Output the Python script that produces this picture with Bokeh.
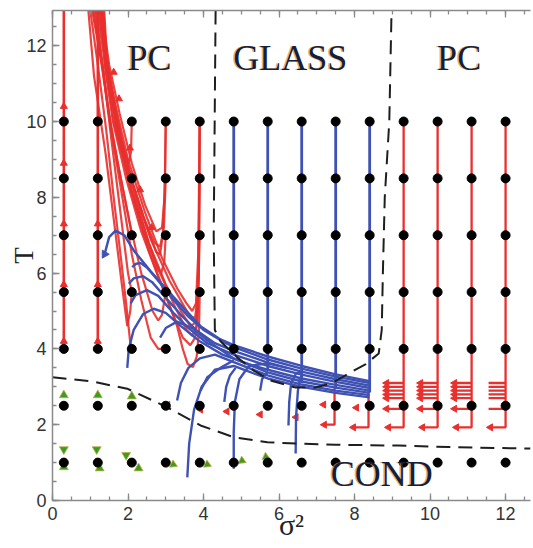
from math import pi
from bokeh.plotting import figure
from bokeh.models import Range1d, LinearAxis, SingleIntervalTicker
from bokeh.core.properties import value
from bokeh.embed import file_html
from bokeh.resources import INLINE

X_MAX = 12.66
T_MAX = 12.93

# grid of starting points
sigma_cols = [0.3, 1.2, 2.1, 3.0, 3.9, 4.8, 5.7, 6.6, 7.5, 8.4, 9.3, 10.2, 11.1, 12.0]
T_rows = [10, 8.5, 7, 5.5, 4, 2.5, 1]
major_ticks = [0, 2, 4, 6, 8, 10, 12]

# phase boundaries (dashed)
glass_x = [4.32, 4.27, 4.3, 4.45, 4.9, 5.33, 5.77, 6.44, 6.97, 7.4, 7.84, 8.3, 8.64, 8.72, 8.75, 8.8, 8.92, 8.98]
glass_T = [12.93, 7.0, 4.5, 4.2, 3.77, 3.43, 3.17, 2.98, 2.98, 3.1, 3.35, 3.6, 3.88, 4.5, 6.0, 8.0, 10.0, 12.93]
cond_x = [0.0, 1.0, 1.98, 3.04, 3.92, 4.8, 5.69, 6.5, 7.5, 9.17, 10.5, 12.66]
cond_T = [3.25, 3.15, 2.95, 2.46, 1.98, 1.67, 1.54, 1.5, 1.47, 1.45, 1.41, 1.37]

# red PC flows, left columns (straight up)
red_left_cols = [0.3, 1.2]
red_left_start = [4.0, 4.0]

# red bundle flows toward PC (upper left)
red_x = [
    [3.9, 3.88, 3.85, 3.78, 3.65, 3.45, 3.2, 2.8, 2.35, 1.95, 1.6, 1.38, 1.3],
    [3.9, 3.87, 3.82, 3.7, 3.55, 3.25, 2.85, 2.4, 2.0, 1.62, 1.4, 1.33],
    [3.9, 3.86, 3.78, 3.68, 3.5, 3.1, 2.6, 2.15, 1.75, 1.45, 1.37],
    [3.9, 3.88, 3.82, 3.72, 3.58, 3.45, 3.3, 3.0, 2.55, 2.1, 1.7, 1.43, 1.25],
    [3.9, 3.86, 3.8, 3.7, 3.55, 3.3, 2.9, 2.45, 2.0, 1.65, 1.4, 1.28],
    [3.9, 3.87, 3.8, 3.65, 3.4, 3.0, 2.55, 2.1, 1.72, 1.45, 1.35],
    [3.0, 2.98, 2.92, 2.85, 2.75, 2.5, 2.1, 1.75, 1.5, 1.22],
    [3.0, 2.95, 2.85, 2.7, 2.4, 2.05, 1.7, 1.4, 1.18],
    [3.0, 2.96, 2.88, 2.78, 2.55, 2.2, 1.85, 1.55, 1.27],
    [3.0, 2.97, 2.9, 2.75, 2.45, 2.1, 1.78, 1.5, 1.3],
    [2.1, 2.08, 2.02, 1.9, 1.7, 1.45, 1.3],
    [2.1, 2.05, 1.95, 1.8, 1.62, 1.42, 1.2, 1.0],
    [3.0, 2.8, 2.6, 2.35, 2.1, 1.85, 1.55, 1.3, 1.08],
    [3.0, 2.9, 2.8, 2.65, 2.35, 2.05, 1.75, 1.45, 1.12],
    [2.1, 2.05, 1.85, 1.55, 1.33, 1.15],
    [2.1, 2.06, 1.98, 1.85, 1.65, 1.4, 1.1, 0.95],
    [2.1, 2.0, 1.9, 1.75, 1.55, 1.35, 1.05],
]
red_T = [
    [10, 7, 5, 4.3, 4.1, 4.3, 4.9, 5.9, 7.1, 8.5, 10, 11.5, 12.93],
    [8.5, 6, 4.6, 4.35, 4.5, 5.1, 6.0, 7.1, 8.5, 10, 11.5, 12.93],
    [7, 5.5, 4.85, 4.8, 5.1, 5.8, 6.9, 8.3, 9.8, 11.5, 12.93],
    [5.5, 4.5, 3.8, 3.52, 3.6, 4.0, 4.6, 5.4, 6.6, 8.1, 9.8, 11.5, 12.93],
    [10, 6.5, 5.2, 5.0, 5.2, 5.6, 6.4, 7.6, 9.0, 10.5, 11.8, 12.93],
    [10, 6.0, 4.7, 4.6, 5.0, 5.7, 6.8, 8.2, 9.8, 11.4, 12.93],
    [10, 8.5, 7, 6.5, 6.55, 7.2, 8.4, 9.6, 11, 12.93],
    [8.5, 7.2, 6.7, 6.8, 7.5, 8.6, 10, 11.5, 12.93],
    [7, 6.3, 6.0, 6.1, 6.8, 8.0, 9.4, 11.0, 12.93],
    [10, 8.0, 7.2, 7.1, 7.8, 8.9, 10.2, 11.5, 12.93],
    [10, 9.2, 8.9, 9.2, 10, 11.2, 12.93],
    [4.0, 4.25, 5.2, 6.5, 8.0, 9.8, 11.5, 12.93],
    [4.0, 4.0, 4.3, 5.3, 6.5, 8.0, 9.8, 11.5, 12.93],
    [5.5, 4.9, 4.75, 5.0, 6.0, 7.3, 8.8, 10.5, 12.93],
    [7, 7.3, 8.3, 9.8, 11.5, 12.93],
    [5.5, 5.0, 4.6, 5.6, 7.2, 9.2, 11.2, 12.93],
    [5.5, 6.0, 6.8, 8.0, 9.6, 11.3, 12.93],
]

# red arrowheads along PC flows
red_up_x = [0.3, 0.3, 0.3, 0.3, 0.3, 1.2, 1.2, 1.2, 1.62, 1.76, 2.05, 2.32, 2.62]
red_up_T = [4.2, 5.7, 7.3, 8.9, 10.4, 4.2, 5.7, 7.3, 11.3, 10.6, 9.3, 8.2, 7.2]

# red comb flows at right (PC, sigma^2 > 9)
comb_cols = [9.3, 10.2, 11.1, 12.0]
comb_levels = [3.1, 3.0, 2.9, 2.8, 2.7, 2.42]
comb_shift = 0.45
hook_T = 1.93
hook_shift = 0.4

# red hooks in the glass / cond columns
hook2_cols = [7.47, 8.37]
hook2_top = [3.0, 2.9]
hook2_T = [2.0, 1.93]
hook2_shift = [0.27, 0.4]
red_left_x = [3.05, 3.92, 4.62, 5.5, 6.45, 7.18, 8.05]
red_left_T = [2.52, 2.4, 2.35, 2.27, 2.2, 2.53, 2.45]

# blue glass flows: vertical parts
blue_cols = [4.8, 5.7, 6.6, 7.5, 8.4]
blue_col_end = [3.9, 3.45, 3.1, 2.95, 2.85]

# blue bundle curves
blue_x = [
    [1.38, 1.5, 1.67, 1.9, 2.15, 2.6, 3.05, 3.5, 3.92, 4.45, 4.8, 5.7, 6.6, 7.5, 8.4],
    [2.11, 2.2, 2.33, 2.5, 2.8, 3.2, 3.6, 4.0, 4.5, 4.8, 5.7, 6.6, 7.5, 8.4],
    [2.02, 2.15, 2.4, 2.65, 3.0, 3.4, 3.8, 4.3, 4.8, 5.7, 6.6, 7.5, 8.4],
    [2.07, 2.2, 2.5, 2.8, 3.2, 3.6, 4.1, 4.8, 5.7, 6.6, 7.5, 8.4],
    [1.98, 2.02, 2.15, 2.4, 2.68, 3.0, 3.4, 3.9, 4.5, 5.2, 5.7, 6.6, 7.5, 8.4],
    [2.85, 3.0, 3.3, 3.7, 4.2, 4.8, 5.7, 6.6, 7.5, 8.4],
    [3.3, 3.4, 3.6, 3.9, 4.3, 4.8, 5.7, 6.6, 7.5, 8.4],
    [3.57, 3.62, 3.75, 3.95, 4.3, 4.8, 5.7, 6.6, 7.5, 8.4],
    [4.8, 4.8, 4.83, 4.95, 5.2, 5.7, 6.2],
    [6.25, 6.27, 6.32, 6.45, 6.6],
    [6.44, 6.45, 6.5, 6.55, 6.6],
    [5.5, 5.55, 5.7],
    [4.55, 4.6, 4.7, 4.85],
    [3.92, 4.1, 4.45, 4.8],
]
blue_T = [
    [6.5, 6.95, 7.12, 7.0, 6.6, 6.05, 5.54, 5.05, 4.6, 4.25, 4.1, 3.8, 3.55, 3.33, 3.15],
    [6.16, 6.24, 6.27, 6.15, 5.8, 5.3, 4.85, 4.5, 4.2, 4.05, 3.72, 3.48, 3.27, 3.1],
    [5.72, 5.86, 5.92, 5.75, 5.35, 4.9, 4.5, 4.15, 3.95, 3.64, 3.4, 3.2, 3.03],
    [5.2, 5.42, 5.55, 5.4, 4.95, 4.55, 4.15, 3.85, 3.55, 3.32, 3.13, 2.97],
    [3.5, 4.0, 4.5, 4.92, 5.06, 4.95, 4.6, 4.2, 3.85, 3.6, 3.45, 3.22, 3.05, 2.9],
    [4.3, 4.55, 4.72, 4.55, 4.15, 3.75, 3.38, 3.14, 2.98, 2.84],
    [2.64, 3.1, 3.5, 3.75, 3.85, 3.65, 3.3, 3.06, 2.9, 2.78],
    [0.61, 1.5, 2.4, 3.0, 3.45, 3.55, 3.22, 3.0, 2.84, 2.72],
    [0.84, 1.8, 2.6, 3.2, 3.55, 3.62, 3.5],
    [1.98, 2.6, 3.1, 3.35, 3.4],
    [1.24, 2.2, 2.9, 3.2, 3.3],
    [2.9, 3.2, 3.4],
    [2.6, 3.0, 3.3, 3.5],
    [2.9, 3.25, 3.5, 3.7],
]
blue_arrow_x = [1.38]
blue_arrow_T = [6.5]

# green COND flows
green_up_x = [0.3, 1.2, 2.1, 0.3, 1.25, 2.28]
green_up_T = [2.78, 2.78, 2.75, 0.88, 0.85, 0.85]
green_down_x = [0.3, 1.17, 1.95]
green_down_T = [1.35, 1.35, 1.2]
green_right_x = [3.2, 4.1, 5.02, 5.65]
green_right_T = [0.95, 0.95, 1.05, 1.15]

# region labels
region_text = ["PC", "GLASS", "PC", "COND"]
region_x = [2.57, 6.3, 10.77, 8.72]
region_T = [11.68, 11.68, 11.68, 0.7]

RED = "#e8302e"
BLUE = "#3f52b4"
GREEN = "#3a9a2a"
AXIS_GRAY = "#8a8a8a"

p = figure(width=533, height=548, x_range=Range1d(0, X_MAX), y_range=Range1d(0, T_MAX),
           output_backend="svg", toolbar_location=None,
           min_border_left=52, min_border_right=3, min_border_top=10, min_border_bottom=48)
p.xgrid.visible = False
p.ygrid.visible = False
p.outline_line_color = None
p.background_fill_color = "white"

for ax in (p.xaxis[0], p.yaxis[0]):
    ax.ticker = SingleIntervalTicker(interval=2, num_minor_ticks=4)
    ax.axis_line_color = AXIS_GRAY
    ax.axis_line_width = 1.5
    ax.major_tick_line_color = AXIS_GRAY
    ax.minor_tick_line_color = AXIS_GRAY
    ax.major_tick_line_width = 1.3
    ax.minor_tick_line_width = 1.3
    ax.major_tick_in = 7
    ax.major_tick_out = 0
    ax.minor_tick_in = 4
    ax.minor_tick_out = 0
    ax.major_label_text_font = "Liberation Sans"
    ax.major_label_text_font_size = "18px"
    ax.major_label_text_color = "#333333"
    ax.major_label_standoff = 6
    ax.axis_label_text_font = "Liberation Serif"
    ax.axis_label_text_font_style = "normal"
    ax.axis_label_text_color = "#222222"

p.yaxis[0].axis_label = "T"
p.yaxis[0].axis_label_text_font_size = "27px"
p.yaxis[0].axis_label_standoff = -16
p.xaxis[0].axis_label = "σ²"
p.xaxis[0].axis_label_text_font_size = "30px"
p.xaxis[0].axis_label_standoff = -15

top = LinearAxis(ticker=SingleIntervalTicker(interval=2, num_minor_ticks=4))
top.axis_line_color = AXIS_GRAY
top.axis_line_width = 1.5
top.major_tick_line_color = AXIS_GRAY
top.minor_tick_line_color = AXIS_GRAY
top.major_tick_line_width = 1.3
top.minor_tick_line_width = 1.3
top.major_tick_in = 7
top.major_tick_out = 0
top.minor_tick_in = 4
top.minor_tick_out = 0
top.major_label_overrides = {t: "" for t in major_ticks}
top.major_label_standoff = 0
p.add_layout(top, "above")

# red flows
p.multi_line([[c, c] for c in red_left_cols], [[s, T_MAX] for s in red_left_start],
             line_color=RED, line_width=2.6)
p.multi_line(red_x, red_T, line_color=RED, line_width=2.2, line_alpha=0.9)
p.scatter(red_up_x, red_up_T, marker="triangle", size=7, color=RED)

comb_xs, comb_ys, comb_ax, comb_aT = [], [], [], []
for c in comb_cols:
    comb_xs.append([c, c, c - hook_shift])
    comb_ys.append([10, hook_T, hook_T])
    comb_ax.append(c - hook_shift)
    comb_aT.append(hook_T)
    for lv in comb_levels:
        comb_xs.append([c, c - comb_shift])
        comb_ys.append([lv, lv])
        if c < 12:
            comb_ax.append(c - comb_shift)
            comb_aT.append(lv)
for c, t0, t1, sh in zip(hook2_cols, hook2_top, hook2_T, hook2_shift):
    comb_xs.append([c, c, c - sh])
    comb_ys.append([t0, t1, t1])
    comb_ax.append(c - sh)
    comb_aT.append(t1)
p.multi_line(comb_xs, comb_ys, line_color=RED, line_width=2.3)
p.scatter(comb_ax, comb_aT, marker="triangle", size=7, angle=pi / 2, color=RED)
p.scatter(red_left_x, red_left_T, marker="triangle", size=7, angle=pi / 2, color=RED)

# blue flows
p.multi_line([[c, c] for c in blue_cols], [[10, e] for e in blue_col_end],
             line_color=BLUE, line_width=2.8)
p.multi_line(blue_x, blue_T, line_color=BLUE, line_width=2.4)
p.scatter(blue_arrow_x, blue_arrow_T, marker="triangle", size=8, angle=2.6, color=BLUE)

# dashed boundaries
p.line(glass_x, glass_T, line_color="#1e1e1e", line_width=2, line_dash="14 8")
p.line(cond_x, cond_T, line_color="#1e1e1e", line_width=2, line_dash="14 8")

# green flows
p.scatter(green_up_x, green_up_T, marker="triangle", size=9, color=GREEN,
          line_color="#c8b040", line_width=0.8)
p.scatter(green_down_x, green_down_T, marker="inverted_triangle", size=9, color=GREEN,
          line_color="#c8b040", line_width=0.8)
p.scatter(green_right_x, green_right_T, marker="triangle", size=8, angle=-2.0, color=GREEN,
          line_color="#c8b040", line_width=0.8)

# grid dots
gx = [c for r in T_rows for c in sigma_cols]
gy = [r for r in T_rows for c in sigma_cols]
p.scatter(gx, gy, size=9, color="black")

# region labels (with slight colour fringe)
p.text(region_x, region_T, text=region_text, text_font=value("Liberation Serif"),
       text_font_size="36px", text_align="center", text_baseline="middle",
       text_color="#e09030", text_alpha=0.7, x_offset=-1.5)
p.text(region_x, region_T, text=region_text, text_font=value("Liberation Serif"),
       text_font_size="36px", text_align="center", text_baseline="middle",
       text_color="#14203a")

open("out.html", "w").write(file_html(p, INLINE))
